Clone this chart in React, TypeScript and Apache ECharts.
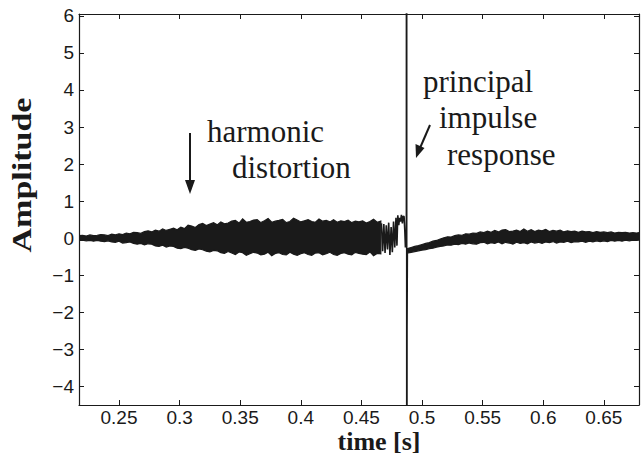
import React, { useEffect, useRef } from "react";
import * as echarts from "echarts";

// ---- axis ranges and ticks ----
const X_MIN = 0.217;
const X_MAX = 0.679;
const Y_MIN = -4.5;
const Y_MAX = 6.05;
const xTicks = [0.25, 0.3, 0.35, 0.4, 0.45, 0.5, 0.55, 0.6, 0.65];
const yTicks = [-4, -3, -2, -1, 0, 1, 2, 3, 4, 5, 6];

// ---- dense harmonic-distortion band before the impulse: [time, upper envelope, lower envelope] ----
const bandBefore: number[][] = [
  [0.217, 0.07, -0.06], [0.22, 0.08, -0.05], [0.223, 0.06, -0.07], [0.226, 0.09, -0.06],
  [0.229, 0.07, -0.08], [0.232, 0.08, -0.06], [0.235, 0.1, -0.08], [0.238, 0.09, -0.09],
  [0.241, 0.07, -0.07], [0.244, 0.11, -0.1], [0.247, 0.09, -0.11], [0.25, 0.12, -0.08],
  [0.253, 0.1, -0.13], [0.256, 0.14, -0.12], [0.259, 0.12, -0.1], [0.262, 0.16, -0.14],
  [0.265, 0.15, -0.16], [0.268, 0.13, -0.14], [0.271, 0.18, -0.18], [0.274, 0.2, -0.15],
  [0.277, 0.17, -0.16], [0.28, 0.22, -0.21], [0.283, 0.19, -0.22], [0.286, 0.25, -0.19],
  [0.289, 0.21, -0.24], [0.292, 0.24, -0.21], [0.295, 0.27, -0.22], [0.298, 0.23, -0.27],
  [0.301, 0.3, -0.28], [0.304, 0.26, -0.25], [0.307, 0.35, -0.27], [0.31, 0.33, -0.31],
  [0.313, 0.29, -0.33], [0.316, 0.37, -0.29], [0.319, 0.4, -0.31], [0.322, 0.34, -0.35],
  [0.325, 0.38, -0.37], [0.328, 0.42, -0.33], [0.331, 0.36, -0.34], [0.334, 0.44, -0.39],
  [0.337, 0.39, -0.41], [0.34, 0.41, -0.36], [0.343, 0.46, -0.4], [0.346, 0.48, -0.44],
  [0.349, 0.41, -0.37], [0.352, 0.52, -0.39], [0.355, 0.43, -0.46], [0.358, 0.45, -0.42],
  [0.361, 0.49, -0.38], [0.364, 0.5, -0.4], [0.367, 0.42, -0.45], [0.37, 0.47, -0.43],
  [0.373, 0.53, -0.38], [0.376, 0.43, -0.47], [0.379, 0.46, -0.41], [0.382, 0.48, -0.39],
  [0.385, 0.51, -0.44], [0.388, 0.42, -0.45], [0.391, 0.45, -0.38], [0.394, 0.54, -0.43],
  [0.397, 0.49, -0.46], [0.4, 0.44, -0.42], [0.403, 0.47, -0.39], [0.406, 0.5, -0.44],
  [0.409, 0.45, -0.46], [0.412, 0.43, -0.4], [0.415, 0.52, -0.39], [0.418, 0.46, -0.45],
  [0.421, 0.48, -0.42], [0.424, 0.44, -0.38], [0.427, 0.5, -0.44], [0.43, 0.43, -0.46],
  [0.433, 0.47, -0.41], [0.436, 0.45, -0.39], [0.439, 0.49, -0.43], [0.442, 0.42, -0.45],
  [0.445, 0.46, -0.38], [0.448, 0.44, -0.41], [0.451, 0.47, -0.43], [0.454, 0.41, -0.44],
  [0.457, 0.45, -0.37], [0.46, 0.51, -0.47], [0.463, 0.43, -0.41], [0.466, 0.46, -0.42],
];

// ---- individual oscillations just before the impulse and the impulse itself: [time, amplitude] ----
const impulseTrace: number[][] = [
  [0.4665, 0.4], [0.4675, -0.35], [0.4685, 0.38], [0.4695, -0.4], [0.4705, 0.35],
  [0.4715, -0.3], [0.4725, 0.42], [0.4735, -0.45], [0.4745, 0.3], [0.4755, -0.38],
  [0.4765, 0.45], [0.4775, -0.25], [0.4785, 0.55], [0.4793, -0.2], [0.48, 0.62],
  [0.4808, 0.35], [0.4815, 0.55], [0.4822, 0.45], [0.483, 0.63], [0.4838, 0.4],
  [0.4845, 0.6], [0.4852, 0.58], [0.4858, 0.2], [0.4863, -0.25], [0.4868, 0.1],
  [0.4871, -0.25], [0.4873, 40], [0.4874, -20], [0.4876, -2.5], [0.4879, -0.34],
];

// ---- decaying response after the impulse: [time, upper envelope, lower envelope] ----
const bandAfter: number[][] = [
  [0.4879, -0.28, -0.4], [0.491, -0.25, -0.38], [0.494, -0.22, -0.36], [0.497, -0.2, -0.34],
  [0.5, -0.17, -0.32], [0.503, -0.14, -0.31], [0.506, -0.12, -0.28], [0.509, -0.08, -0.27],
  [0.512, -0.06, -0.24], [0.515, -0.02, -0.22], [0.518, 0.01, -0.21], [0.521, 0.04, -0.18],
  [0.524, 0.03, -0.19], [0.527, 0.07, -0.16], [0.53, 0.09, -0.17], [0.533, 0.08, -0.14],
  [0.536, 0.12, -0.16], [0.539, 0.11, -0.13], [0.542, 0.14, -0.15], [0.545, 0.13, -0.16],
  [0.548, 0.17, -0.12], [0.551, 0.15, -0.11], [0.554, 0.19, -0.15], [0.557, 0.16, -0.12],
  [0.56, 0.21, -0.14], [0.563, 0.17, -0.1], [0.566, 0.22, -0.15], [0.569, 0.23, -0.11],
  [0.572, 0.18, -0.13], [0.575, 0.19, -0.16], [0.578, 0.22, -0.11], [0.581, 0.18, -0.14],
  [0.584, 0.25, -0.12], [0.587, 0.19, -0.15], [0.59, 0.23, -0.1], [0.593, 0.18, -0.13],
  [0.596, 0.22, -0.11], [0.599, 0.2, -0.14], [0.602, 0.24, -0.1], [0.605, 0.18, -0.12],
  [0.608, 0.21, -0.09], [0.611, 0.19, -0.13], [0.614, 0.22, -0.1], [0.617, 0.17, -0.11],
  [0.62, 0.2, -0.08], [0.623, 0.18, -0.12], [0.626, 0.19, -0.09], [0.629, 0.16, -0.1],
  [0.632, 0.19, -0.08], [0.635, 0.17, -0.11], [0.638, 0.18, -0.08], [0.641, 0.15, -0.1],
  [0.644, 0.18, -0.07], [0.647, 0.16, -0.09], [0.65, 0.17, -0.07], [0.653, 0.15, -0.09],
  [0.656, 0.17, -0.06], [0.659, 0.14, -0.08], [0.662, 0.16, -0.06], [0.665, 0.15, -0.08],
  [0.668, 0.16, -0.05], [0.671, 0.14, -0.07], [0.674, 0.15, -0.05], [0.677, 0.14, -0.06],
  [0.679, 0.15, -0.05],
];

const bands = [bandBefore, bandAfter];

const INK = "#1a1a1a";
const SANS = "'Liberation Sans', Arial, Helvetica, sans-serif";
const SERIF = "'Liberation Serif', 'Times New Roman', Times, serif";

export default function App() {
  const ref = useRef<HTMLDivElement>(null);

  useEffect(() => {
    if (!ref.current) return;
    const chart = echarts.init(ref.current, null, { renderer: "svg" });

    const axisLine = { show: true, lineStyle: { color: INK, width: 1.2 } };
    const tickStyle = { color: INK, width: 1 };
    const minus = (v: number) => String(v).replace("-", "\u2212");

    const option: any = {
      animation: false,
      backgroundColor: "#ffffff",
      grid: { left: 79, right: 5, top: 14, bottom: 50, containLabel: false },
      xAxis: [
        {
          type: "value",
          position: "bottom",
          min: X_MIN,
          max: X_MAX,
          axisLine: { ...axisLine, onZero: false },
          axisTick: { show: true, inside: true, length: 5, lineStyle: tickStyle, customValues: xTicks },
          axisLabel: {
            show: true,
            customValues: xTicks,
            margin: 3,
            color: INK,
            fontFamily: SANS,
            fontSize: 19,
            lineHeight: 19,
            formatter: (v: number) => String(v),
          },
          splitLine: { show: false },
        },
        {
          type: "value",
          position: "top",
          min: X_MIN,
          max: X_MAX,
          axisLine: { ...axisLine, onZero: false },
          axisTick: { show: true, inside: true, length: 5, lineStyle: tickStyle, customValues: xTicks },
          axisLabel: { show: false },
          splitLine: { show: false },
        },
      ],
      yAxis: [
        {
          type: "value",
          position: "left",
          min: Y_MIN,
          max: Y_MAX,
          axisLine: { ...axisLine, onZero: false },
          axisTick: { show: true, inside: true, length: 5, lineStyle: tickStyle, customValues: yTicks },
          axisLabel: {
            show: true,
            customValues: yTicks,
            margin: 5,
            color: INK,
            fontFamily: SANS,
            fontSize: 19,
            formatter: (v: number) => minus(v),
          },
          splitLine: { show: false },
        },
        {
          type: "value",
          position: "right",
          min: Y_MIN,
          max: Y_MAX,
          axisLine: { ...axisLine, onZero: false },
          axisTick: { show: true, inside: true, length: 5, lineStyle: tickStyle, customValues: yTicks },
          axisLabel: { show: false },
          splitLine: { show: false },
        },
      ],
      series: [
        {
          type: "custom",
          name: "amplitude band",
          xAxisIndex: 0,
          yAxisIndex: 0,
          silent: true,
          clip: true,
          data: [
            [0.34, 0, 0],
            [0.58, 0, 1],
          ],
          renderItem: (params: any, api: any) => {
            const band = bands[api.value(2)];
            const upper = band.map((p) => api.coord([p[0], p[1]]));
            const lower = band.map((p) => api.coord([p[0], p[2]])).reverse();
            return {
              type: "polygon",
              shape: { points: upper.concat(lower) },
              style: { fill: INK, stroke: INK, lineWidth: 1.2 },
            };
          },
        },
        {
          type: "line",
          name: "impulse",
          xAxisIndex: 0,
          yAxisIndex: 0,
          data: impulseTrace,
          showSymbol: false,
          symbol: "none",
          clip: true,
          lineStyle: { color: INK, width: 1.6 },
          silent: true,
        },
      ],
      graphic: [
        // y-axis title
        {
          type: "text",
          x: 22,
          y: 175,
          rotation: Math.PI / 2,
          scaleY: 0.82,
          style: {
            text: "Amplitude",
            fill: INK,
            font: `bold 34px ${SERIF}`,
            align: "center",
            verticalAlign: "middle",
          },
        },
        // x-axis title
        {
          type: "text",
          x: 379,
          y: 441,
          style: {
            text: "time [s]",
            fill: INK,
            font: `bold 26px ${SERIF}`,
            lineHeight: 22,
            align: "center",
            verticalAlign: "middle",
          },
        },
        // annotations
        { type: "text", x: 207, y: 131.5, style: { text: "harmonic", fill: INK, font: `31px ${SERIF}`, align: "left", verticalAlign: "middle" } },
        { type: "text", x: 232, y: 167.5, style: { text: "distortion", fill: INK, font: `31px ${SERIF}`, align: "left", verticalAlign: "middle" } },
        { type: "text", x: 423, y: 81.5, style: { text: "principal", fill: INK, font: `31px ${SERIF}`, align: "left", verticalAlign: "middle" } },
        { type: "text", x: 439, y: 117.5, style: { text: "impulse", fill: INK, font: `31px ${SERIF}`, align: "left", verticalAlign: "middle" } },
        { type: "text", x: 447, y: 154.5, style: { text: "response", fill: INK, font: `31px ${SERIF}`, align: "left", verticalAlign: "middle" } },
        // arrow: harmonic distortion
        { type: "line", shape: { x1: 190, y1: 133, x2: 190, y2: 182 }, style: { stroke: INK, lineWidth: 2 } },
        { type: "polygon", shape: { points: [[185, 180], [195, 180], [190, 194]] }, style: { fill: INK } },
        // arrow: principal impulse response
        { type: "line", shape: { x1: 430, y1: 125, x2: 420, y2: 148 }, style: { stroke: INK, lineWidth: 2 } },
        { type: "polygon", shape: { points: [[415.5, 144], [424.5, 148], [416, 158]] }, style: { fill: INK } },
      ],
    };

    chart.setOption(option);
    return () => chart.dispose();
  }, []);

  return (
    <div
      ref={ref}
      style={{ position: "absolute", left: 0, top: 0, width: 644, height: 455 }}
    />
  );
}
